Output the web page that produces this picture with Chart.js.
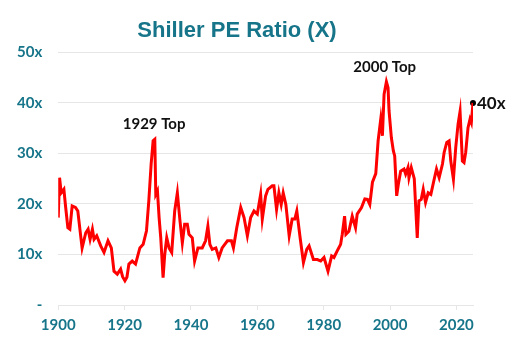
<!DOCTYPE html>
<html>
<head>
<meta charset="utf-8">
<script src="https://cdn.jsdelivr.net/npm/chart.js@4/dist/chart.umd.min.js"></script>
<style>
  html, body { margin: 0; padding: 0; background: #ffffff; }
  #wrap { width: 508px; height: 340px; position: relative; }
</style>
</head>
<body>
<div id="wrap"><canvas id="pe"></canvas></div>
<script>
// Shiller cyclically adjusted P/E, monthly path sampled at turning points
const years = [
  1900.0, 1900.4, 1900.9, 1901.7, 1902.2, 1902.9, 1903.5, 1904.2, 1905.2, 1905.9,
  1906.8, 1907.2, 1908.3, 1909.0, 1909.6, 1910.3, 1910.8, 1911.6, 1912.8, 1913.8,
  1915.0, 1916.0, 1916.8, 1917.8, 1918.8, 1919.4, 1920.1, 1920.7, 1921.3, 1922.3,
  1923.3, 1924.6, 1925.6, 1926.6, 1927.3, 1928.0, 1928.6, 1929.1, 1929.4, 1929.9,
  1930.4, 1930.9, 1931.6, 1932.1, 1932.7, 1933.4, 1934.2, 1935.1, 1935.9, 1936.7,
  1937.4, 1938.1, 1938.9, 1939.4, 1940.4, 1941.1, 1942.1, 1943.4, 1944.4, 1945.1,
  1945.7, 1946.4, 1947.5, 1948.4, 1949.4, 1951.0, 1952.2, 1952.8, 1953.8, 1955.0,
  1956.0, 1957.0, 1958.0, 1959.0, 1960.0, 1961.0, 1961.5, 1962.5, 1963.2, 1964.5,
  1965.0, 1965.8, 1966.5, 1967.2, 1967.8, 1968.6, 1969.6, 1970.5, 1971.3, 1971.9,
  1972.9, 1973.9, 1974.9, 1975.6, 1976.9, 1978.1, 1979.1, 1980.1, 1981.3, 1982.4,
  1983.1, 1984.3, 1985.1, 1985.6, 1986.3, 1986.7, 1987.6, 1988.6, 1989.6, 1990.1,
  1991.4, 1992.4, 1993.2, 1993.9, 1994.7, 1995.7, 1996.4, 1997.2, 1997.7, 1998.2,
  1998.9, 1999.4, 1999.7, 2000.4, 2001.0, 2001.4, 2002.0, 2002.5, 2003.2, 2004.2,
  2004.7, 2005.4, 2005.7, 2006.4, 2007.3, 2008.2, 2008.7, 2009.4, 2010.0, 2010.7,
  2011.5, 2012.3, 2013.3, 2014.0, 2014.8, 2015.8, 2016.3, 2017.1, 2017.8, 2018.3,
  2019.1, 2019.8, 2020.5, 2021.1, 2021.8, 2022.3, 2022.8, 2023.5, 2024.1, 2024.5,
  2025.0
];
const pe = [
  17.3, 25.2, 22.2, 22.9, 19.6, 15.3, 15.0, 19.6, 19.3, 18.6,
  13.5, 11.3, 14.3, 15.0, 13.0, 15.0, 13.0, 13.7, 11.7, 10.4,
  12.7, 11.3,  6.7,  6.1,  7.1,  5.6,  4.8,  5.5,  8.1,  8.7,
   8.1, 11.3, 12.0, 14.7, 20.6, 27.9, 32.5, 32.8, 21.9, 22.6,
  17.3, 13.3,  5.4, 10.0, 13.3, 11.3, 10.4, 18.6, 22.2, 16.6,
  12.3, 16.0, 16.0, 14.0, 13.3,  8.7, 11.3, 11.3, 12.7, 15.6,
  12.0, 11.0, 11.3,  9.4, 11.3, 12.7, 12.7, 11.3, 15.3, 19.3,
  17.3, 13.7, 17.3, 18.6, 18.0, 21.9, 17.0, 21.6, 22.9, 23.6,
  23.6, 18.9, 22.2, 19.9, 22.2, 19.9, 13.7, 17.0, 17.0, 18.6,
  13.3,  8.4, 11.0, 11.7,  9.0,  9.0,  8.7,  9.4,  6.7,  9.7,
   9.4, 11.0, 12.0, 14.0, 17.6, 14.0, 14.6, 17.6, 15.3, 18.0,
  19.3, 21.0, 20.9, 19.9, 24.3, 26.0, 32.5, 36.8, 33.5, 41.7,
  44.2, 43.0, 38.4, 33.1, 30.5, 29.5, 21.6, 23.9, 26.5, 26.9,
  25.9, 27.2, 25.2, 27.2, 25.0, 13.3, 20.6, 20.9, 22.9, 20.3,
  22.2, 21.9, 24.9, 26.9, 25.2, 27.9, 30.2, 32.2, 32.5, 28.5,
  24.9, 31.2, 35.8, 38.3, 28.5, 28.2, 30.2, 35.1, 36.8, 36.1,
  40.0
];

// Latest reading, marked with a dot and its value
const latestYear = 2025.0;
const latestPe = 40;

// Axis ticks
const xTicks = [1900, 1920, 1940, 1960, 1980, 2000, 2020];
const yTicks = [0, 10, 20, 30, 40, 50];

// Peak callouts
const noteLabels = ['1929 Top', '2000 Top'];
const noteYears = [1928.9, 1998.4];
const noteValues = [35.8, 47.0];

const TEAL = '#17758a';
const GRID = '#e6e6e6';
const TICK_FONT = { family: 'Lato, "Liberation Sans", sans-serif', size: 15, weight: 'bold' };

const callouts = {
  id: 'callouts',
  afterDatasetsDraw(chart) {
    const { ctx, scales } = chart;
    ctx.save();
    ctx.fillStyle = '#111111';
    ctx.font = 'bold 15px Lato, "Liberation Sans", sans-serif';
    ctx.textAlign = 'center';
    ctx.textBaseline = 'middle';
    noteLabels.forEach((t, i) => {
      ctx.fillText(t, scales.x.getPixelForValue(noteYears[i]), scales.y.getPixelForValue(noteValues[i]));
    });
    const px = scales.x.getPixelForValue(latestYear);
    const py = scales.y.getPixelForValue(latestPe);
    ctx.font = 'bold 17px Lato, "Liberation Sans", sans-serif';
    ctx.textAlign = 'left';
    ctx.fillText(latestPe + 'x', px + 4, py + 1);
    ctx.restore();
  }
};

new Chart(document.getElementById('pe'), {
  type: 'line',
  data: {
    datasets: [
      {
        data: years.map((y, i) => ({ x: y, y: pe[i] })),
        borderColor: '#ff0000',
        borderWidth: 3,
        pointRadius: 0,
        tension: 0,
        fill: false
      },
      {
        data: [{ x: latestYear, y: latestPe }],
        showLine: false,
        pointRadius: 3,
        pointBackgroundColor: '#000000',
        pointBorderColor: '#000000',
        pointBorderWidth: 0,
        clip: false
      }
    ]
  },
  options: {
    responsive: true,
    maintainAspectRatio: false,
    animation: false,
    events: [],
    layout: { padding: { left: 1, right: 35, top: 0, bottom: 0 } },
    plugins: {
      legend: { display: false },
      tooltip: { enabled: false },
      title: {
        display: true,
        text: 'Shiller PE Ratio (X)',
        color: TEAL,
        font: { family: '"Liberation Sans", Arial, sans-serif', size: 22, weight: 'bold' },
        padding: { top: 18, bottom: 8 }
      }
    },
    scales: {
      x: {
        type: 'linear',
        min: 1900,
        max: 2025,
        afterBuildTicks(scale) { scale.ticks = xTicks.map(v => ({ value: v })); },
        grid: { drawOnChartArea: false, drawTicks: true, tickLength: 5, color: GRID },
        border: { display: true, color: GRID },
        ticks: { color: TEAL, font: TICK_FONT, padding: 6, maxRotation: 0, callback: v => String(v) }
      },
      y: {
        min: 0,
        max: 50,
        afterBuildTicks(scale) { scale.ticks = yTicks.map(v => ({ value: v })); },
        grid: { color: GRID, drawTicks: false },
        border: { display: false },
        ticks: { color: TEAL, font: TICK_FONT, padding: 16, callback: v => (v === 0 ? '-' : v + 'x') }
      }
    }
  },
  plugins: [callouts]
});
</script>
</body>
</html>
